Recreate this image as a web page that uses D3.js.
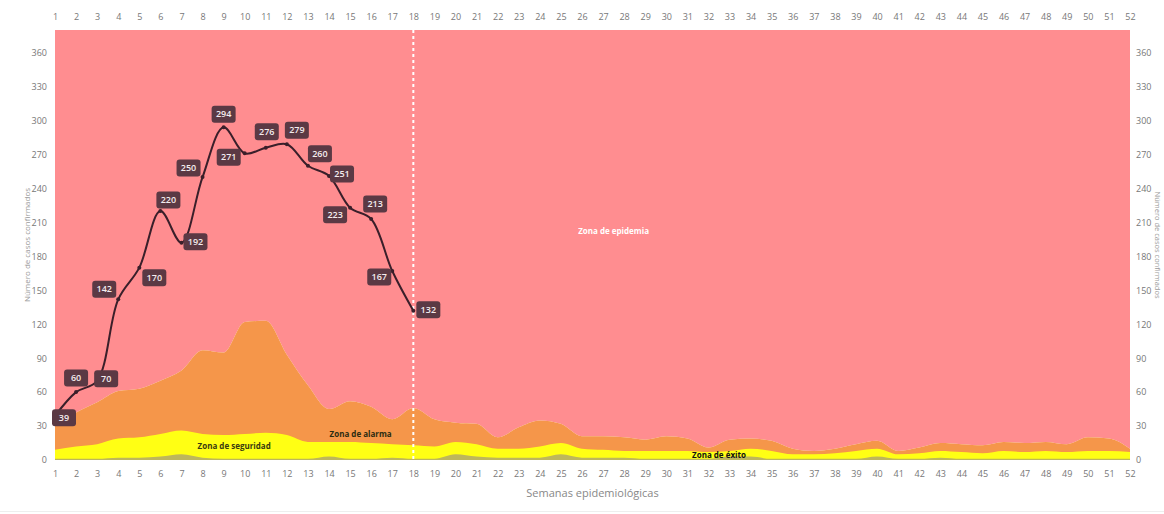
<!DOCTYPE html>
<html>
<head>
<meta charset="utf-8">
<script src="https://cdn.jsdelivr.net/npm/d3@7"></script>
<style>
  html, body { margin: 0; padding: 0; background: #fff; }
  svg { display: block; }
</style>
</head>
<body>
<script>
// epidemiological weeks 1..52
const weeks = d3.range(1, 53);

// confirmed cases (weeks 1..18)
const cases = [39, 60, 70, 142, 170, 220, 192, 250, 294, 271, 276, 279, 260, 251, 223, 213, 167, 132];

// endemic channel thresholds per week
const exito = [1, 1, 1, 2, 2, 3, 5, 2, 1, 1, 1, 1, 1, 3, 1, 1, 2, 1, 1, 5,
               3, 2, 2, 2, 5, 2, 2, 2, 1, 1, 1, 1, 3, 3, 1, 1, 1, 1, 1, 3,
               1, 1, 2, 1, 1, 1, 1, 1, 1, 1, 1, 1];
const seguridad = [9, 12, 14, 19, 20, 23, 26, 23, 22, 23, 24, 22, 16, 16, 16, 15, 14, 13, 12, 16,
                   14, 10, 10, 12, 15, 10, 9, 8, 8, 8, 8, 7, 8, 10, 8, 5, 5, 6, 8, 10,
                   5, 6, 8, 7, 6, 8, 7, 8, 7, 8, 8, 7];
const alarma = [30, 42, 51, 61, 63, 70, 79, 97, 95, 122, 123, 93, 66, 45, 52, 47, 36, 46, 36, 33,
                32, 20, 29, 35, 32, 21, 21, 20, 18, 21, 19, 11, 18, 19, 17, 10, 8, 10, 14, 17,
                8, 11, 15, 14, 13, 16, 15, 16, 14, 20, 19, 10];

const yTicks = d3.range(0, 361, 30);
const cutWeek = 18;

// where each value box sits relative to its point (px)
const labelOffset = [[9, 2], [0, -14], [9, -2], [-14, -10], [15, 10], [8, -11], [14, -1], [-14, -9], [0, -13],
                     [-16, 4], [1, -16], [10, -14], [12, -12], [13, -2], [-15, 7], [4, -15], [-13, 6], [15, -1]];

const width = 1164, height = 514;
const mLeft = 55, mRight = 1130, mTop = 30, mBottom = 460;
const font = "'Liberation Sans Narrow', 'Open Sans', sans-serif";

const x = d3.scaleLinear().domain([1, 52]).range([mLeft, mRight]);
const y = d3.scaleLinear().domain([0, 380]).range([mBottom, mTop]);

const svg = d3.select("body").append("svg")
    .attr("width", width)
    .attr("height", height)
    .attr("viewBox", [0, 0, width, height]);

const rows = weeks.map((w, i) => ({w, e: exito[i], s: seguridad[i], a: alarma[i]}));

// zones, top to bottom
const zones = [
  {lo: d => d.a, hi: () => 380, fill: "#ff8d90"},
  {lo: () => 0, hi: d => d.a, fill: "#f5964a"},
  {lo: () => 0, hi: d => d.s, fill: "#ffff14"},
  {lo: () => 0, hi: d => d.e, fill: "#bdb65c"}
];

svg.append("g")
  .selectAll("path")
  .data(zones)
  .join("path")
    .attr("fill", z => z.fill)
    .attr("d", z => d3.area()
        .x(d => x(d.w))
        .y0(d => y(z.lo(d)))
        .y1(d => y(z.hi(d)))
        .curve(d3.curveMonotoneX)(rows));

// zone names
const zoneText = [
  {t: "Zona de epidemia", w: 27.5, v: 200, c: "#fff"},
  {t: "Zona de alarma", w: 15.5, v: 20, c: "#2b2b10"},
  {t: "Zona de seguridad", w: 9.5, v: 10, c: "#3a3a10"},
  {t: "Zona de éxito", w: 32.5, v: 2, c: "#111"}
];
svg.append("g")
  .selectAll("text")
  .data(zoneText)
  .join("text")
    .attr("x", d => x(d.w))
    .attr("y", d => y(d.v))
    .attr("text-anchor", "middle")
    .attr("fill", d => d.c)
    .style("font", `bold 8px ${font}`)
    .text(d => d.t);

// current week marker
svg.append("line")
    .attr("x1", x(cutWeek)).attr("x2", x(cutWeek))
    .attr("y1", y(380)).attr("y2", y(0))
    .attr("stroke", "#fff")
    .attr("stroke-width", 2)
    .attr("stroke-dasharray", "3,3");

// cases line
const pts = cases.map((v, i) => ({w: i + 1, v}));
svg.append("path")
    .datum(pts)
    .attr("fill", "none")
    .attr("stroke", "#3a1f2a")
    .attr("stroke-width", 2)
    .attr("d", d3.line().x(d => x(d.w)).y(d => y(d.v)).curve(d3.curveCatmullRom.alpha(0.5)));

svg.append("g")
  .selectAll("circle")
  .data(pts)
  .join("circle")
    .attr("cx", d => x(d.w))
    .attr("cy", d => y(d.v))
    .attr("r", 2)
    .attr("fill", "#3a1f2a");

const lab = svg.append("g")
  .selectAll("g")
  .data(pts)
  .join("g")
    .attr("transform", (d, i) => `translate(${x(d.w) + labelOffset[i][0]},${y(d.v) + labelOffset[i][1]})`);
lab.append("rect")
    .attr("x", -12).attr("y", -8.5)
    .attr("width", 24).attr("height", 17)
    .attr("rx", 3)
    .attr("fill", "#5b3944");
lab.append("text")
    .attr("text-anchor", "middle")
    .attr("dy", "0.35em")
    .attr("fill", "#f4ecee")
    .style("font", `600 9px ${font}`)
    .text(d => d.v);

// axes
const axisText = sel => sel.selectAll("text").attr("fill", "#777").style("font", `9px ${font}`);
const noLines = sel => { sel.select(".domain").remove(); sel.selectAll("line").remove(); };

svg.append("g")
    .attr("transform", `translate(0,${mTop - 10})`)
    .call(d3.axisTop(x).tickValues(weeks).tickFormat(d3.format("d")).tickSize(0).tickPadding(0))
    .call(noLines).call(axisText);

svg.append("g")
    .attr("transform", `translate(0,${mBottom + 11})`)
    .call(d3.axisBottom(x).tickValues(weeks).tickFormat(d3.format("d")).tickSize(0).tickPadding(0))
    .call(noLines).call(axisText);

svg.append("g")
    .attr("transform", `translate(${mLeft - 8},0)`)
    .call(d3.axisLeft(y).tickValues(yTicks).tickSize(0).tickPadding(0))
    .call(noLines).call(axisText);

svg.append("g")
    .attr("transform", `translate(${mRight + 6},0)`)
    .call(d3.axisRight(y).tickValues(yTicks).tickSize(0).tickPadding(0))
    .call(noLines).call(axisText);

// axis titles
svg.append("text")
    .attr("x", (mLeft + mRight) / 2)
    .attr("y", 497)
    .attr("text-anchor", "middle")
    .attr("fill", "#888")
    .style("font", `11px ${font}`)
    .text("Semanas epidemiológicas");

svg.append("text")
    .attr("transform", `translate(30,${y(190)}) rotate(-90)`)
    .attr("text-anchor", "middle")
    .attr("fill", "#999")
    .style("font", `8px ${font}`)
    .text("Número de casos confirmados");

svg.append("text")
    .attr("transform", `translate(1155,${y(190)}) rotate(90)`)
    .attr("text-anchor", "middle")
    .attr("fill", "#999")
    .style("font", `7.5px ${font}`)
    .text("Número de casos confirmados");

svg.append("line")
    .attr("x1", 0).attr("x2", width)
    .attr("y1", 511.5).attr("y2", 511.5)
    .attr("stroke", "#eee");
</script>
</body>
</html>
